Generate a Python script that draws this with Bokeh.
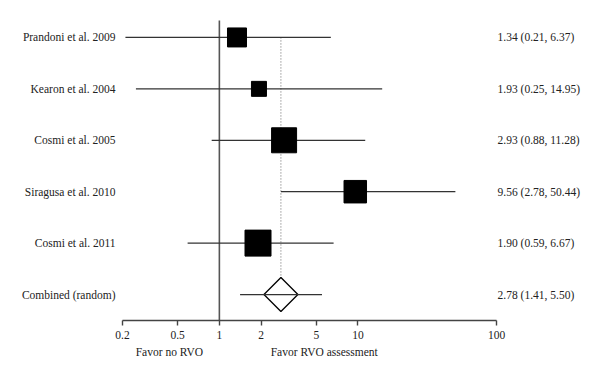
import math
from bokeh.plotting import figure
from bokeh.models import (Range1d, LogAxis, FixedTicker, CustomJSTickFormatter,
                          ColumnDataSource)
from bokeh.core.properties import value
from bokeh.embed import file_html
from bokeh.resources import INLINE

# ---- data ----
studies = ["Prandoni et al. 2009", "Kearon et al. 2004", "Cosmi et al. 2005",
           "Siragusa et al. 2010", "Cosmi et al. 2011", "Combined (random)"]
estimate = [1.34, 1.93, 2.93, 9.56, 1.90, 2.78]
lower = [0.21, 0.25, 0.88, 2.78, 0.59, 1.41]
upper = [6.37, 14.95, 11.28, 50.44, 6.67, 5.50]
study_weight_px = [19, 15, 25, 22.5, 26]   # square size (study weight)
tick_values = [0.2, 0.5, 1, 2, 5, 10, 100]
side_labels = ["Favor no RVO", "Favor RVO assessment"]

# ---- layout constants ----
FONT = "Liberation Serif"
FS = "11.5px"
n = len(studies)
rows = list(range(n, 0, -1))          # 6 .. 1
px_per_row = 51.5
px_per_dec = 138.6
frame_w, frame_h = 592, 320
left_px = 122      # screen position of 0.2 inside frame
x0 = math.log10(0.2) - left_px / px_per_dec
x1 = x0 + frame_w / px_per_dec
y_top = n + 37 / px_per_row
y_bot = 1 - 26 / px_per_row

p = figure(frame_width=frame_w, frame_height=frame_h, x_axis_type="log",
           x_range=Range1d(10 ** x0, 10 ** x1), y_range=Range1d(y_bot, y_top),
           x_axis_location=None, y_axis_location=None,
           output_backend="svg", toolbar_location=None,
           min_border=0, min_border_left=0, min_border_right=0, min_border_top=0)
p.outline_line_color = None
p.background_fill_color = "white"
p.border_fill_color = "white"
p.grid.grid_line_color = None

# dotted line at combined estimate
comb = estimate[-1]
p.segment(x0=[comb], y0=[rows[0]], x1=[comb], y1=[rows[-1]],
          line_color="#666666", line_width=1, line_dash="1 2")
# no-effect line
p.segment(x0=[1], y0=[y_bot], x1=[1], y1=[n + 17 / px_per_row],
          line_color="#555555", line_width=1.6)

# diamond for combined
p.scatter(x=[comb], y=[rows[-1]], marker="square", angle=math.pi / 4, size=24,
          fill_color="white", line_color="black", line_width=1.3)

# CI lines
src = ColumnDataSource(dict(lo=lower, hi=upper, y=rows))
p.segment(x0="lo", y0="y", x1="hi", y1="y", source=src,
          line_color="#333333", line_width=1.2)

# squares
sq = ColumnDataSource(dict(x=estimate[:-1], y=rows[:-1], s=study_weight_px))
p.scatter(x="x", y="y", size="s", marker="square", source=sq,
          fill_color="black", line_color="black")

# study labels
p.text(x=[0.2] * n, y=rows, text=studies, x_offset=-7,
       text_align="right", text_baseline="middle",
       text_font=value(FONT), text_font_size=FS, text_color="#222222")

# estimate labels
est_txt = [f"{e:.2f} ({l:.2f}, {u:.2f})" for e, l, u in zip(estimate, lower, upper)]
p.text(x=[100] * n, y=rows, text=est_txt, x_offset=1,
       text_align="left", text_baseline="middle",
       text_font=value(FONT), text_font_size=FS, text_color="#222222")

# main axis
ax = LogAxis(bounds=(0.2, 100),
             ticker=FixedTicker(ticks=tick_values, minor_ticks=[]),
             formatter=CustomJSTickFormatter(code="return String(tick)"))
ax.axis_line_color = "#444444"
ax.axis_line_width = 1.6
ax.major_tick_line_color = "#444444"
ax.major_tick_line_width = 1.4
ax.major_tick_in = 0
ax.major_tick_out = 5
ax.minor_tick_line_color = None
ax.major_label_standoff = 5
ax.major_label_text_font = FONT
ax.major_label_text_font_size = FS
ax.major_label_text_color = "#222222"
p.add_layout(ax, "below")

# side label axis
side_pos = [0.436, 5.71]
ax2 = LogAxis(ticker=FixedTicker(ticks=side_pos, minor_ticks=[]),
              formatter=CustomJSTickFormatter(
                  args=dict(labels=side_labels),
                  code="return tick < 1 ? labels[0] : labels[1]"))
ax2.axis_line_color = None
ax2.major_tick_line_color = None
ax2.minor_tick_line_color = None
ax2.major_tick_in = 0
ax2.major_tick_out = 0
ax2.major_label_standoff = 4
ax2.major_label_text_font = FONT
ax2.major_label_text_font_size = FS
ax2.major_label_text_color = "#222222"
p.add_layout(ax2, "below")

open("out.html", "w").write(file_html(p, INLINE))
